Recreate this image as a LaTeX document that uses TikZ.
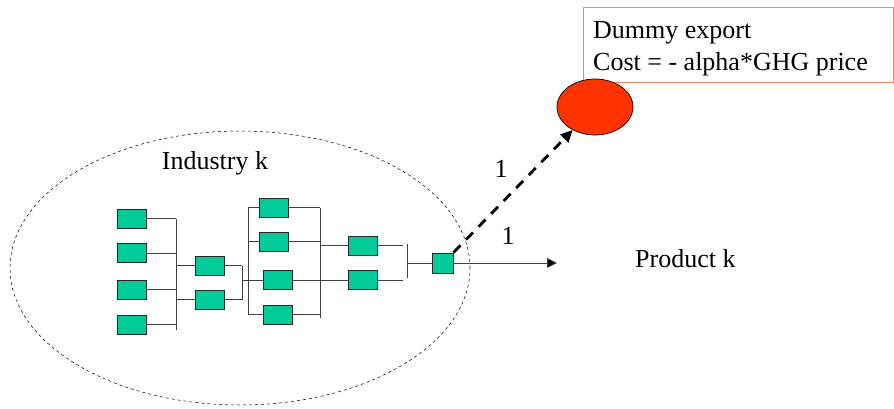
\documentclass[tikz,border=0pt]{standalone}
\usepackage{fontspec}
\setmainfont{Liberation Serif}
\usetikzlibrary{arrows.meta,shapes.geometric}
\definecolor{boxgreen}{HTML}{00CC99}
\definecolor{dotred}{HTML}{FF3300}
\definecolor{salmon}{HTML}{FF8066}
\begin{document}
\begin{tikzpicture}[x=1pt,y=-1pt,
  gbox/.style={draw=black!85,line width=0.9pt,fill=boxgreen,minimum width=29pt,minimum height=19pt,inner sep=0pt},
  wire/.style={draw=black!75,line width=0.9pt},
  lbl/.style={font=\fontsize{26}{31}\selectfont,inner sep=0pt}]
\useasboundingbox (0,0) rectangle (894,408);
% industry ellipse
\node[draw,dashed,line width=0.5pt,ellipse,minimum width=460pt,minimum height=274pt,inner sep=0pt] (ind) at (240,268) {};
\node[lbl,anchor=base] (indl) at (215,169) {Industry k};
% column 1
\node[gbox] (a1) at (131.5,218.5) {};
\node[gbox] (a2) at (131.5,253) {};
\node[gbox] (a3) at (131.5,289.5) {};
\node[gbox] (a4) at (131.5,324.5) {};
\coordinate (busA) at (176,0);
\foreach \n in {a1,a2,a3,a4} \draw[wire] (\n.east) -- (\n.east -| busA);
\draw[wire] (176,218.5) -- (176,330);
% column 2
\node[gbox] (b1) at (210,265.5) {};
\node[gbox] (b2) at (210,299.5) {};
\foreach \n in {b1,b2} \draw[wire] (\n.west -| busA) -- (\n.west);
\coordinate (busB) at (242,0);
\foreach \n in {b1,b2} \draw[wire] (\n.east) -- (\n.east -| busB);
\draw[wire] (242,265.5) -- (242,299.5);
% column 3
\node[gbox] (c1) at (273.5,207.5) {};
\node[gbox] (c2) at (273.5,241.5) {};
\node[gbox] (c3) at (277.5,280) {};
\node[gbox] (c4) at (277.5,314.5) {};
\coordinate (busC) at (248,0);
\draw[wire] (248,207.5) -- (248,314.5);
\draw[wire] (c1.west -| busC) -- (c1.west);
\draw[wire] (c2.west -| busC) -- (c2.west);
\draw[wire] (c3.west -| busB) -- (c3.west);
\draw[wire] (c4.west -| busC) -- (c4.west);
\coordinate (busD) at (320,0);
\foreach \n in {c1,c2,c3,c4} \draw[wire] (\n.east) -- (\n.east -| busD);
\draw[wire] (320,207.5) -- (320,318);
% column 4
\node[gbox] (d1) at (362.5,245.5) {};
\node[gbox] (d2) at (362.5,280) {};
\foreach \n in {d1,d2} \draw[wire] (\n.west -| busD) -- (\n.west);
\coordinate (busE) at (403,0);
\foreach \n in {d1,d2} \draw[wire] (\n.east) -- (\n.east -| busE);
\draw[wire] (407,244) -- (407,278);
% final box
\node[gbox,minimum width=21pt,minimum height=20pt] (f) at (442.5,263) {};
\coordinate (busF) at (407,0);
\draw[wire] (f.west -| busF) -- (f.west);
% product arrow
\coordinate (ptip) at (557,263);
\draw[wire,-{Triangle[length=10pt,width=10pt,fill=black]}] (f.east) -- (ptip);
\node[lbl,anchor=base] (one2) at (508,244) {1};
\node[lbl,anchor=base west] (prod) at (635,267) {Product k};
% dummy export box
\node[draw=salmon,line width=0.9pt,rectangle,minimum width=310pt,minimum height=75pt,inner sep=0pt] (dbox) at (738,44.5) {};
\node[lbl,anchor=base west] (d1l) at (593,38) {Dummy export};
\node[lbl,anchor=base west] (d2l) at (593,70) {Cost = - alpha*GHG price};
% red ellipse
\node[draw=black,line width=0.7pt,fill=dotred,ellipse,minimum width=76pt,minimum height=56pt,inner sep=0pt] (E) at (595,107) {};
% dashed arrow
\draw[line width=2.8pt,dash pattern=on 10pt off 8pt,-{Triangle[length=12pt,width=11pt]}] (f.north east) -- (E);
\node[lbl,anchor=base] (one1) at (501,177) {1};
\end{tikzpicture}
\end{document}
